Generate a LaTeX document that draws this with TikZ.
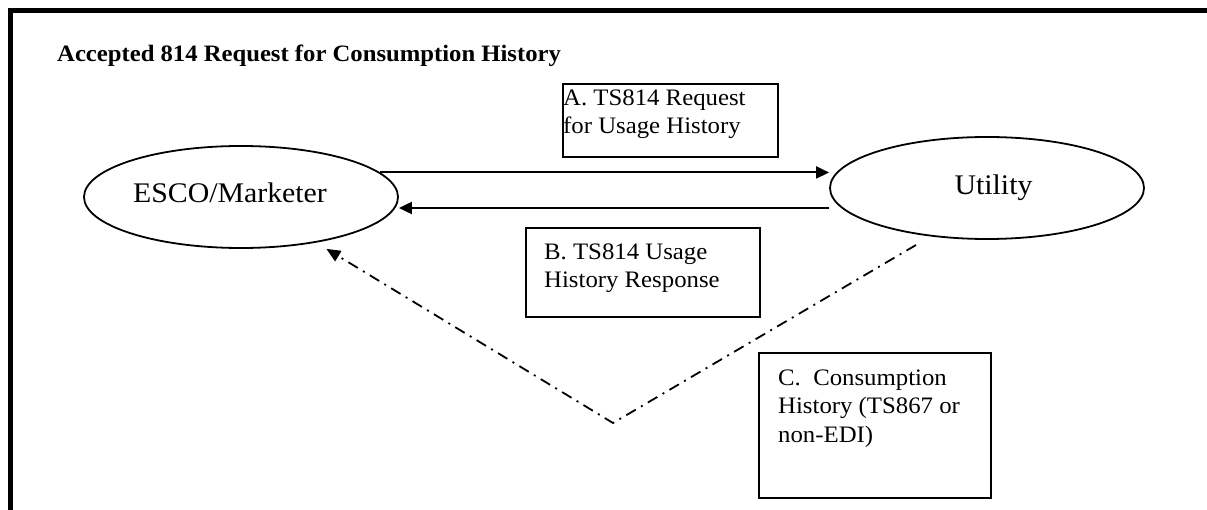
\documentclass[tikz,border=0pt]{standalone}
\usepackage{fontspec}
\setmainfont{Liberation Serif}[FakeStretch=1.05]
\usetikzlibrary{arrows.meta,calc,shapes.geometric}
\tikzset{
  frameline/.style={line width=5pt, line join=miter},
  party/.style={ellipse, draw, line width=1.8pt, minimum width=314pt, minimum height=102pt, inner sep=0pt},
  partytext/.style={anchor=base, inner sep=0pt, font=\fontsize{28.4}{32}\selectfont},
  msgbox/.style={draw, line width=1.6pt, inner sep=0pt, anchor=north west},
  msgtext/.style={anchor=north west, inner sep=0pt, align=left, font=\fontsize{23.6}{28}\selectfont},
  flow/.style={line width=2pt, -{Triangle[length=13pt,width=12pt]}},
  reply/.style={line width=1.8pt, dash pattern=on 11pt off 6pt on 2pt off 6pt, -{Triangle[length=14pt,width=12pt]}},
}
\begin{document}
\begin{tikzpicture}[x=1pt,y=-1pt]
\useasboundingbox (0,0) rectangle (1207,510);
\draw[frameline] (1215,10.5) -- (10.5,10.5) -- (10.5,520);
\node[anchor=base west, inner sep=0pt, font=\bfseries\fontsize{23.5}{28}\selectfont] (title) at (57,62) {Accepted 814 Request for Consumption History};

\node[party] (esco) at (241,197) {};
\node[partytext] (escotext) at (230,203) {ESCO/Marketer};
\node[party] (utility) at (987,188) {};
\node[partytext] (utilitytext) at (993.5,195) {Utility};

\node[msgbox, minimum width=215pt, minimum height=73pt] (boxA) at (562,83) {};
\node[msgtext] (txtA) at (563,89) {\rule{0pt}{16pt}A. TS814 Request\\for Usage History};

\node[msgbox, minimum width=234pt, minimum height=89pt] (boxB) at (525,227) {};
\node[msgtext] (txtB) at (544,243) {\rule{0pt}{16pt}B. TS814 Usage\\History Response};

\node[msgbox, minimum width=232pt, minimum height=145pt] (boxC) at (758,352) {};
\node[msgtext, font=\fontsize{23.6}{28.5}\selectfont] (txtC) at (778,369) {\rule{0pt}{16pt}C.\ \ Consumption\\History (TS867 or\\non-EDI)};

\draw[flow] (esco.10.4) -- (esco.10.4 -| utility.west);
\coordinate (bstart) at ([yshift=-20pt]utility.west);
\draw[flow] (bstart) -- (bstart -| esco.east);

\coordinate (cstart) at (916,245);
\coordinate (vtx) at (613,423);
\draw[reply, shorten >=12pt] (cstart) -- (vtx) -- (esco);
\end{tikzpicture}
\end{document}
